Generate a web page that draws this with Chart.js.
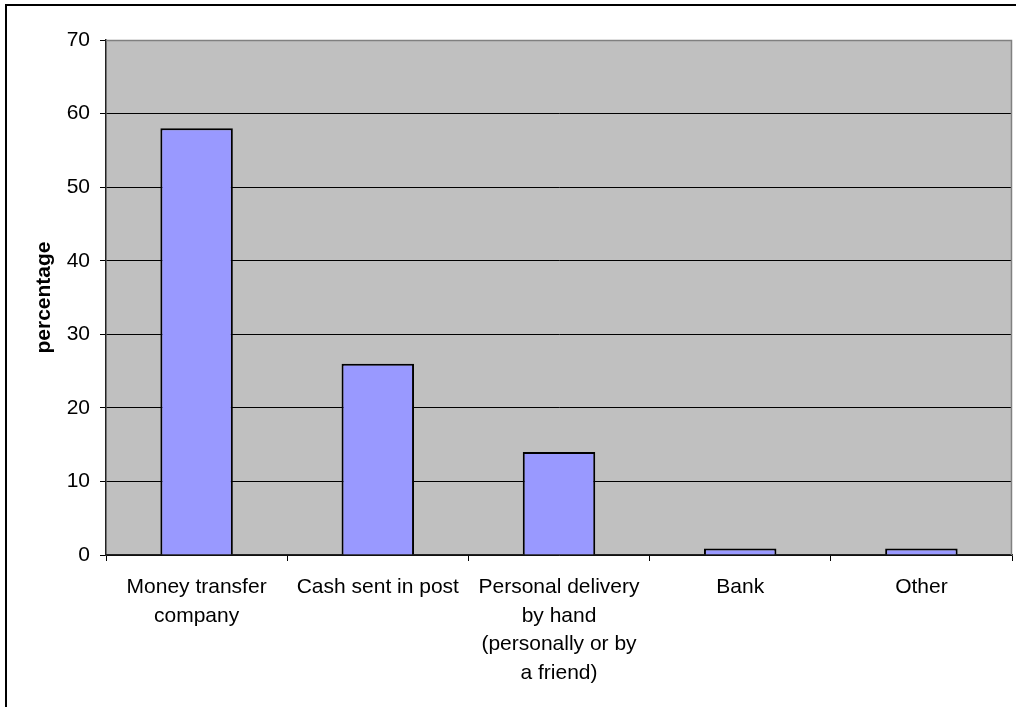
<!DOCTYPE html>
<html>
<head>
<meta charset="utf-8">
<script src="https://cdn.jsdelivr.net/npm/chart.js@4/dist/chart.umd.min.js"></script>
<style>
  body { margin: 0; background: #fff; }
  canvas { display: block; }
</style>
</head>
<body>
<canvas id="chart" width="1016" height="707"></canvas>
<script>
// data
const categories = [
    ['Money transfer', 'company'],
    'Cash sent in post',
    ['Personal delivery', 'by hand', '(personally or by', 'a friend)'],
    'Bank',
    'Other'
];
const percentages = [58, 26, 14, 0.9, 0.9];
const yTicks = [0, 10, 20, 30, 40, 50, 60, 70];

// grey plot area, its grey top/right edge and the outer frame
const plotFrame = {
    id: 'plotFrame',
    beforeDraw(chart) {
        const { ctx, chartArea: a } = chart;
        ctx.save();
        ctx.fillStyle = '#000';
        ctx.fillRect(5, 4, 1011, 2);
        ctx.fillRect(5, 4, 2, 703);
        ctx.fillStyle = '#C0C0C0';
        ctx.fillRect(a.left, a.top, a.right - a.left, a.bottom - a.top);
        ctx.restore();
    },
    beforeDatasetsDraw(chart) {
        const { ctx, chartArea: a } = chart;
        ctx.save();
        ctx.strokeStyle = '#808080';
        ctx.lineWidth = 1.5;
        ctx.beginPath();
        ctx.moveTo(a.left, a.top + 0.5);
        ctx.lineTo(a.right - 0.5, a.top + 0.5);
        ctx.lineTo(a.right - 0.5, a.bottom);
        ctx.stroke();
        ctx.restore();
    }
};

const labelFont = { family: '"Liberation Sans", Arial, sans-serif', size: 21, lineHeight: 1.36 };

new Chart(document.getElementById('chart').getContext('2d'), {
    type: 'bar',
    data: {
        labels: categories,
        datasets: [{
            label: 'percentage',
            data: percentages,
            backgroundColor: '#9999FF',
            borderColor: '#000',
            borderWidth: 2,
            categoryPercentage: 1,
            barPercentage: 0.4
        }]
    },
    options: {
        responsive: false,
        animation: false,
        devicePixelRatio: 1,
        layout: { padding: { left: 0, top: 40, right: 4, bottom: 0 } },
        plugins: {
            legend: { display: false },
            tooltip: { enabled: false }
        },
        scales: {
            x: {
                grid: {
                    offset: true,
                    drawOnChartArea: false,
                    color: '#000',
                    tickLength: 6
                },
                border: { color: '#222', width: 1.5 },
                ticks: {
                    color: '#000',
                    font: labelFont,
                    padding: 12,
                    maxRotation: 0,
                    autoSkip: false
                },
                afterFit(scale) { scale.height = 152; }
            },
            y: {
                min: 0,
                max: 70,
                afterBuildTicks(scale) {
                    scale.ticks = yTicks.map(v => ({ value: v }));
                },
                grid: {
                    color: ctx => ctx.tick && ctx.tick.value === 70 ? 'rgba(0,0,0,0)' : '#000',
                    tickColor: '#000',
                    lineWidth: 1,
                    tickLength: 6
                },
                border: { color: '#222', width: 1.5 },
                ticks: {
                    color: '#000',
                    font: labelFont,
                    padding: 10
                },
                title: {
                    display: true,
                    text: 'percentage',
                    color: '#000',
                    font: { family: '"Liberation Sans", Arial, sans-serif', size: 21, weight: 'bold' },
                    padding: { top: 32, bottom: 0 }
                },
                afterFit(scale) { scale.width = 106; }
            }
        }
    },
    plugins: [plotFrame]
});
</script>
</body>
</html>
